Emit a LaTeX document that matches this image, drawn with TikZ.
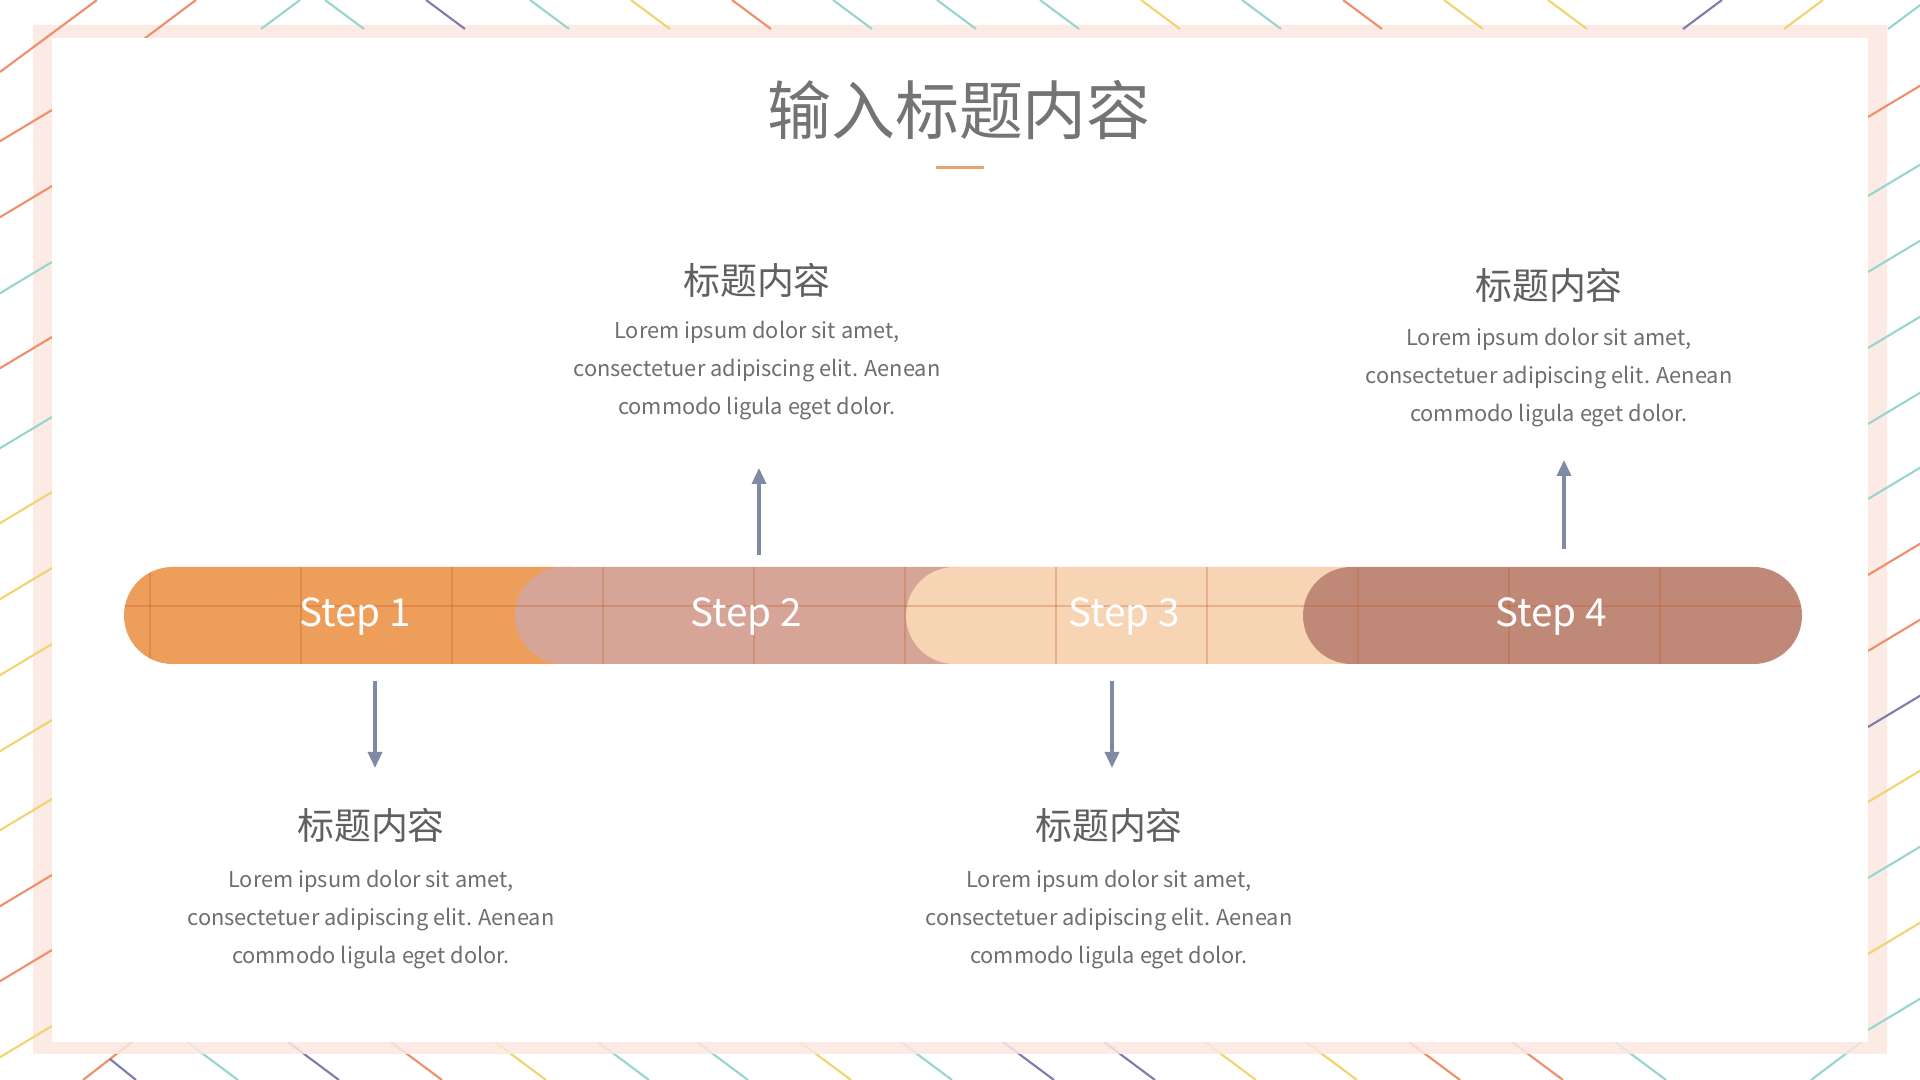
\documentclass[tikz,border=0pt]{standalone}
\usepackage{fontspec}
\setmainfont{Noto Sans CJK SC}
\usetikzlibrary{arrows.meta}

\definecolor{framepink}{HTML}{FCE7E0}
\definecolor{lineorange}{HTML}{EF8F6A}
\definecolor{lineteal}{HTML}{98D5CF}
\definecolor{linepurple}{HTML}{7E7BAE}
\definecolor{lineyellow}{HTML}{F3D36F}
\definecolor{stepone}{HTML}{ED9E5B}
\definecolor{steptwo}{HTML}{D6A597}
\definecolor{stepthree}{HTML}{F7D4B4}
\definecolor{stepfour}{HTML}{C08877}
\definecolor{gridtone}{HTML}{C0561E}
\definecolor{arrowgrey}{HTML}{7F8BA5}
\definecolor{titlegrey}{HTML}{747474}
\definecolor{headgrey}{HTML}{606060}
\definecolor{bodygrey}{HTML}{6E6E6E}
\definecolor{accent}{HTML}{E6A36B}

\newcommand{\loremlines}{Lorem ipsum dolor sit amet,\\consectetuer adipiscing elit. Aenean\\commodo ligula eget dolor.}

\tikzset{
  deco/.style={line width=0.6pt},
  pill/.style={rounded corners=4.85mm},
  titletext/.style={text=titlegrey, font=\fontsize{18.2}{20}\selectfont},
  steplabel/.style={text=white, font=\fontsize{11}{13}\selectfont},
  headline/.style={text=headgrey, font=\fontsize{10.5}{12}\selectfont},
  bodytext/.style={text=bodygrey, align=center, font=\fontsize{6.2}{10.8}\selectfont},
  steparrow/.style={arrowgrey, line width=1pt, -{Triangle[length=1.6mm,width=1.4mm]}}
}

\begin{document}
\begin{tikzpicture}
    \useasboundingbox (0,0) rectangle (19.2,10.8);
    \fill[white] (0,0) rectangle (19.2,10.8);

    % bottom strokes, partly under the frame
    \foreach \x/\c in {1.87/lineteal, 2.88/linepurple, 3.91/lineorange, 4.95/lineyellow,
        5.98/lineteal, 6.97/lineteal, 8.00/lineyellow, 9.01/lineteal, 10.03/linepurple,
        11.04/linepurple, 12.05/lineyellow, 13.06/lineyellow, 14.09/lineorange,
        15.12/lineorange, 16.15/lineteal}
        \draw[deco,\c] (\x,0.38) -- ++(0.51,-0.38);
    \draw[deco,lineorange] (0.83,0) -- (1.32,0.38);
    \draw[deco,linepurple] (1.10,0.21) -- (1.36,0);
    \draw[deco,lineteal] (18.11,0) -- (18.68,0.43);

    % frame
    \fill[framepink, opacity=0.85, even odd rule] (0.33,0.26) rectangle (18.87,10.55)
        (0.52,0.38) rectangle (18.68,10.42);

    % top strokes
    \draw[deco,lineorange] (0.97,10.8) -- (0,10.08);
    \draw[deco,lineorange] (1.96,10.8) -- (1.44,10.41);
    \foreach \x/\dx/\c in {3.00/-0.39/lineteal, 3.25/0.39/lineteal, 4.26/0.39/linepurple,
        5.30/0.39/lineteal, 6.31/0.39/lineyellow, 7.32/0.39/lineorange, 8.33/0.39/lineteal,
        9.37/0.39/lineteal, 10.40/0.39/lineteal, 11.41/0.39/lineyellow, 12.42/0.39/lineteal,
        13.43/0.39/lineorange, 14.44/0.39/lineyellow, 15.48/0.39/lineyellow,
        17.22/-0.39/linepurple, 18.23/-0.39/lineyellow, 19.27/-0.39/lineteal}
        \draw[deco,\c] (\x,10.8) -- ++(\dx,-0.29);

    % left and right strokes
    \foreach \y/\c in {9.70/lineorange, 8.94/lineorange, 8.18/lineteal, 7.43/lineorange,
        6.63/lineteal, 5.88/lineyellow, 5.12/lineyellow, 4.36/lineyellow, 3.60/lineyellow,
        2.81/lineyellow, 2.05/lineorange, 1.30/lineorange, 0.54/lineyellow}
        \draw[deco,\c] (0.52,\y) -- ++(-0.60,-0.36);
    \foreach \y/\c in {9.63/lineorange, 8.84/lineteal, 8.08/lineteal, 7.32/lineteal,
        6.56/lineteal, 5.81/lineteal, 5.05/lineorange, 4.29/lineorange, 3.53/linepurple,
        2.78/lineyellow, 2.02/lineteal, 1.26/lineyellow, 0.50/lineteal}
        \draw[deco,\c] (18.68,\y) -- ++(0.60,0.36);

    \fill[white] (0.52,0.38) rectangle (18.68,10.42);

    % title
    \node[titletext] (title) at (9.59,9.70) {输入标题内容};
    \fill[accent] (9.36,9.11) rectangle (9.84,9.14);

    % step bar
    \fill[stepone, pill] (1.24,4.16) rectangle (6.20,5.13);
    \fill[steptwo, pill] (5.15,4.16) rectangle (10.10,5.13);
    \fill[stepthree, pill] (9.06,4.16) rectangle (14.00,5.13);
    \fill[stepfour, pill] (13.03,4.16) rectangle (18.02,5.13);
    \begin{scope}
        \clip[pill] (1.24,4.16) rectangle (18.02,5.13);
        \foreach \x in {1.50,3.01,...,16.61}
            \draw[gridtone, opacity=0.28, line width=0.4pt] (\x,4.16) -- (\x,5.13);
        \draw[gridtone, opacity=0.28, line width=0.4pt] (1.24,4.74) -- (18.02,4.74);
    \end{scope}

    \node[steplabel] (step1) at (3.55,4.63) {Step 1};
    \node[steplabel] (step2) at (7.46,4.63) {Step 2};
    \node[steplabel] (step3) at (11.24,4.63) {Step 3};
    \node[steplabel] (step4) at (15.51,4.63) {Step 4};

    % arrows
    \coordinate (arr1a) at (3.75,3.99);
    \coordinate (arr1b) at (3.75,3.12);
    \coordinate (arr2a) at (7.59,5.25);
    \coordinate (arr2b) at (7.59,6.12);
    \coordinate (arr3a) at (11.12,3.99);
    \coordinate (arr3b) at (11.12,3.12);
    \coordinate (arr4a) at (15.64,5.31);
    \coordinate (arr4b) at (15.64,6.20);
    \draw[steparrow] (arr1a) -- (arr1b);
    \draw[steparrow] (arr2a) -- (arr2b);
    \draw[steparrow] (arr3a) -- (arr3b);
    \draw[steparrow] (arr4a) -- (arr4b);

    % text blocks
    \node[headline] (head1) at (3.71,2.55) {标题内容};
    \node[bodytext] (body1) at (3.71,1.60) {\loremlines};
    \node[headline] (head2) at (7.57,8.00) {标题内容};
    \node[bodytext] (body2) at (7.57,7.09) {\loremlines};
    \node[headline] (head3) at (11.09,2.55) {标题内容};
    \node[bodytext] (body3) at (11.09,1.60) {\loremlines};
    \node[headline] (head4) at (15.49,7.95) {标题内容};
    \node[bodytext] (body4) at (15.49,7.02) {\loremlines};
\end{tikzpicture}
\end{document}
